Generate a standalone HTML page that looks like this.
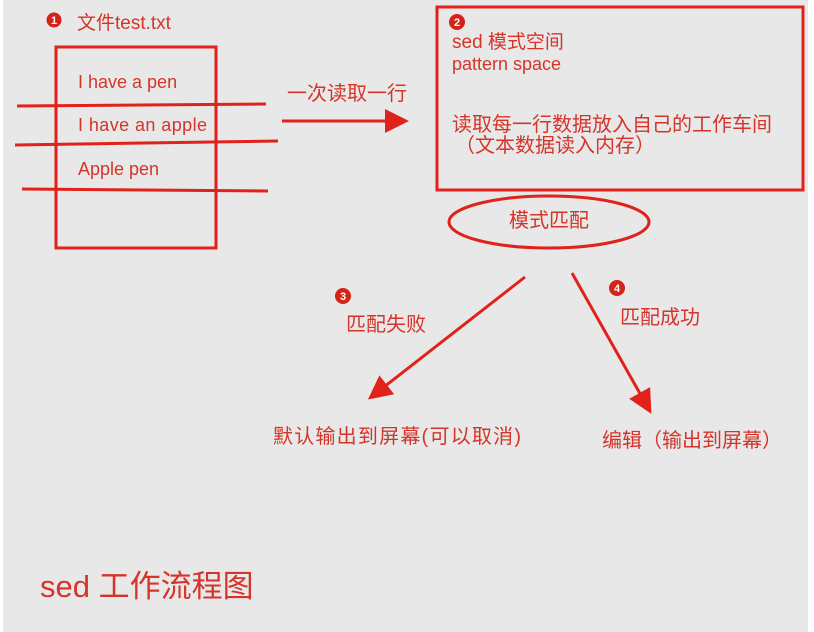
<!DOCTYPE html>
<html><head><meta charset="utf-8"><style>
html,body{margin:0;padding:0;background:#fff;}
svg{display:block;}
text{font-family:"Liberation Sans","Noto Sans CJK SC",sans-serif;fill:#d5342a;}
</style></head><body>
<svg width="814" height="632" viewBox="0 0 814 632" xmlns="http://www.w3.org/2000/svg">
<defs>
<marker id="ah" markerWidth="8" markerHeight="8" refX="5" refY="4" orient="auto" markerUnits="strokeWidth">
<path d="M0,0 L8,4 L0,8 z" fill="#e0221b"/>
</marker>
</defs>
<rect x="3" y="0" width="805" height="632" fill="#e8e8e8"/>
<g stroke="#e0221b" stroke-width="3" fill="none">
<rect x="56" y="47" width="160" height="201"/>
<line x1="17" y1="106" x2="266" y2="104"/>
<line x1="15" y1="145" x2="278" y2="141"/>
<line x1="22" y1="189" x2="268" y2="191"/>
<line x1="282" y1="121" x2="400" y2="121" marker-end="url(#ah)"/>
<rect x="437" y="7" width="366" height="183"/>
<ellipse cx="549" cy="222" rx="100" ry="26"/>
<line x1="525" y1="277" x2="375" y2="394" marker-end="url(#ah)"/>
<line x1="572" y1="273" x2="647" y2="406" marker-end="url(#ah)"/>
</g>
<g fill="#d42317">
<circle cx="54" cy="20" r="7.5"/><circle cx="457" cy="22" r="8"/>
<circle cx="343" cy="296" r="8"/><circle cx="617" cy="288" r="8"/>
</g>
<g style="font-size:11px;font-weight:bold" text-anchor="middle">
<text x="54" y="24" style="fill:#fff">1</text><text x="457" y="26" style="fill:#fff">2</text>
<text x="343" y="300" style="fill:#fff">3</text><text x="617" y="292" style="fill:#fff">4</text>
</g>
<g style="font-size:18px">
<text x="77" y="29" style="font-size:19px">文件test.txt</text>
<text x="78" y="88">I have a pen</text>
<text x="78" y="131" textLength="129">I have an apple</text>
<text x="78" y="175">Apple pen</text>
<text x="452" y="70">pattern space</text>
</g>
<g style="font-size:20px">
<text x="287" y="100">一次读取一行</text>
<text x="452" y="48" style="font-size:19px">sed 模式空间</text>
<text x="452" y="131">读取每一行数据放入自己的工作车间</text>
<text x="455" y="152">（文本数据读入内存）</text>
<text x="549" y="227" text-anchor="middle">模式匹配</text>
<text x="346" y="331">匹配失败</text>
<text x="620" y="324">匹配成功</text>
<text x="273" y="443" textLength="248">默认输出到屏幕(可以取消)</text>
<text x="602" y="447">编辑（输出到屏幕）</text>
</g>
<text x="40" y="597" style="font-size:31px">sed 工作流程图</text>
</svg>
</body></html>
